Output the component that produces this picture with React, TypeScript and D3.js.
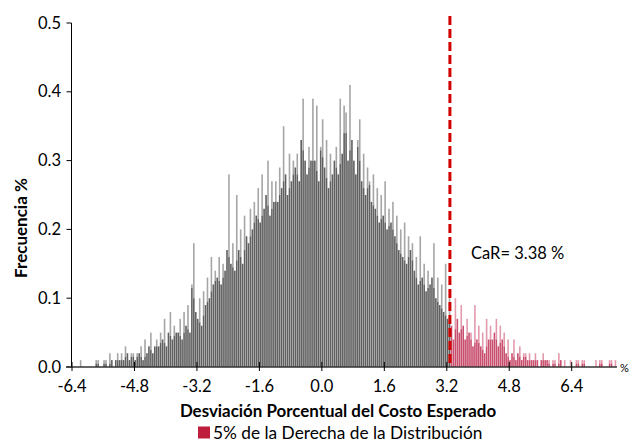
import * as d3 from "d3";

// histogram bins: left edge of the first bin and bin width (% deviation)
const binStart = -6.2;
const binStep = 0.05;

// frecuencia (%) per bin, 10 bins per row
const frequency = [
  0.01, 0, 0, 0, 0, 0, 0, 0, 0.01, 0.01,
  0, 0, 0.01, 0.01, 0, 0.02, 0.01, 0, 0.01, 0.02,
  0.01, 0.02, 0.01, 0.03, 0.02, 0.01, 0.02, 0.02, 0.01, 0.02,
  0.02, 0.03, 0.01, 0.04, 0.02, 0.03, 0.05, 0.02, 0.03, 0.04,
  0.03, 0.05, 0.04, 0.07, 0.03, 0.05, 0.08, 0.04, 0.06, 0.05,
  0.05, 0.07, 0.04, 0.08, 0.06, 0.09, 0.05, 0.12, 0.18, 0.08,
  0.07, 0.1, 0.06, 0.11, 0.09, 0.13, 0.1, 0.16, 0.12, 0.14,
  0.13, 0.16, 0.12, 0.15, 0.14, 0.17, 0.28, 0.15, 0.18, 0.14,
  0.25, 0.17, 0.2, 0.15, 0.22, 0.19, 0.18, 0.23, 0.2, 0.24,
  0.22, 0.26, 0.21, 0.28, 0.23, 0.25, 0.3, 0.22, 0.27, 0.24,
  0.27, 0.24, 0.29, 0.26, 0.35, 0.28, 0.25, 0.31, 0.27, 0.3,
  0.29, 0.31, 0.27, 0.33, 0.39, 0.3, 0.28, 0.32, 0.3, 0.39,
  0.3, 0.38, 0.27, 0.32, 0.36, 0.29, 0.33, 0.26, 0.31, 0.28,
  0.3, 0.32, 0.28, 0.39, 0.31, 0.38, 0.37, 0.3, 0.41, 0.33,
  0.3, 0.28, 0.33, 0.36, 0.27, 0.31, 0.25, 0.29, 0.27, 0.24,
  0.28, 0.23, 0.26, 0.21, 0.25, 0.22, 0.27, 0.2, 0.23, 0.21,
  0.24, 0.19, 0.22, 0.17, 0.2, 0.16, 0.21, 0.15, 0.19, 0.17,
  0.18, 0.14, 0.16, 0.12, 0.19, 0.13, 0.15, 0.11, 0.14, 0.12,
  0.13, 0.18, 0.1, 0.13, 0.09, 0.12, 0.08, 0.15, 0.07, 0.1,
  0.06, 0.04, 0.1, 0.07, 0.05, 0.09, 0.06, 0.04, 0.07, 0.05,
  0.05, 0.03, 0.09, 0.04, 0.06, 0.03, 0.05, 0.02, 0.07, 0.04,
  0.06, 0.04, 0.05, 0.07, 0.03, 0.06, 0.04, 0.05, 0.02, 0.04,
  0.01, 0.02, 0.04, 0.01, 0.02, 0.03, 0.01, 0.02, 0.02, 0.01,
  0.02, 0.01, 0.01, 0.02, 0.01, 0, 0.01, 0.02, 0.01, 0.01,
  0.01, 0, 0.01, 0.01, 0, 0.02, 0.01, 0, 0.01, 0,
  0, 0.01, 0, 0, 0.01, 0.01, 0, 0.01, 0.01, 0,
  0, 0, 0, 0, 0.01, 0, 0.01, 0.01, 0, 0,
  0, 0.01, 0.01, 0, 0.01,
];

const xTicks = [-6.4, -4.8, -3.2, -1.6, 0, 1.6, 3.2, 4.8, 6.4];
const yTicks = [0, 0.1, 0.2, 0.3, 0.4, 0.5];

// where the red tail starts (dashed line) and its label
const carCut = 3.28;
const carLabel = "CaR= 3.38 %";

const xTitle = "Desviación Porcentual del Costo Esperado";
const yTitle = "Frecuencia %";
const legendLabel = "5% de la Derecha de la Distribución";

const font = "Lato, 'Open Sans', sans-serif";

export default function App() {
  const width = 631;
  const height = 441;

  const x = d3.scaleLinear().domain([-6.4, 7.56]).range([72, 617]);
  const y = d3.scaleLinear().domain([0, 0.5]).range([367, 23]);

  const bins = frequency.map((f, i) => ({ x0: binStart + i * binStep, f }));
  const bw = x(binStep) - x(0);

  return (
    <div>
      <style>{"body{margin:0}"}</style>
      <svg width={width} height={height} style={{ display: "block", background: "#fff" }}>
        {/* bars: body in dark tone, the part sticking above the neighbours lighter */}
        {bins.map((b, i) => {
          if (!b.f) return null;
          const prev = frequency[i - 1] ?? 0;
          const next = frequency[i + 1] ?? 0;
          const body = Math.min(b.f, (prev + next) / 2);
          const tail = b.x0 >= carCut;
          const bx = x(b.x0);
          return (
            <g key={i}>
              <rect
                x={bx}
                y={y(b.f)}
                width={bw - 0.35}
                height={y(body) - y(b.f)}
                fill={tail ? "#e39aad" : "#a6a6a6"}
              />
              <rect
                x={bx}
                y={y(body)}
                width={bw - 0.35}
                height={y(0) - y(body)}
                fill={tail ? "#c94f6f" : "#606060"}
              />
            </g>
          );
        })}

        {/* y axis */}
        <line x1={71.5} x2={71.5} y1={y(0.5)} y2={y(0)} stroke="#000" strokeWidth={1} />
        {yTicks.map((t) => (
          <g key={t}>
            <line x1={66.5} x2={71.5} y1={y(t)} y2={y(t)} stroke="#000" strokeWidth={1} />
            <text
              x={61}
              y={y(t) + 5.5}
              textAnchor="end"
              fontFamily={font}
              fontSize={16.5}
              fill="#000"
            >
              {t.toFixed(1)}
            </text>
          </g>
        ))}

        {/* x axis */}
        <line x1={66} x2={617} y1={y(0)} y2={y(0)} stroke="#333" strokeWidth={1.5} />
        {xTicks.map((t) => (
          <g key={t}>
            <line x1={x(t)} x2={x(t)} y1={y(0) - 5} y2={y(0) + 4} stroke="#000" strokeWidth={1} />
            <text
              x={x(t)}
              y={391.5}
              textAnchor="middle"
              fontFamily={font}
              fontSize={16.5}
              fill="#000"
            >
              {t.toFixed(1)}
            </text>
          </g>
        ))}
        <text x={620} y={372} fontFamily={font} fontSize={11} fill="#000">
          %
        </text>

        {/* CaR line */}
        <line
          x1={x(carCut)}
          x2={x(carCut)}
          y1={16}
          y2={y(0)}
          stroke="#d00000"
          strokeWidth={3}
          strokeDasharray="9,4"
        />
        <text x={471} y={258.5} fontFamily={font} fontSize={16.5} fill="#000">
          {carLabel}
        </text>

        {/* titles */}
        <text
          x={338}
          y={416.5}
          textAnchor="middle"
          fontFamily={font}
          fontSize={16.9}
          fontWeight="bold"
          fill="#000"
        >
          {xTitle}
        </text>
        <text
          transform={`translate(27,228) rotate(-90)`}
          textAnchor="middle"
          fontFamily={font}
          fontSize={17}
          fontWeight="bold"
          fill="#000"
        >
          {yTitle}
        </text>

        {/* legend */}
        <rect x={198} y={426.5} width={12} height={12} fill="#be1e3c" />
        <text x={213} y={438.5} fontFamily={font} fontSize={17.3} fill="#000">
          {legendLabel}
        </text>
      </svg>
    </div>
  );
}
